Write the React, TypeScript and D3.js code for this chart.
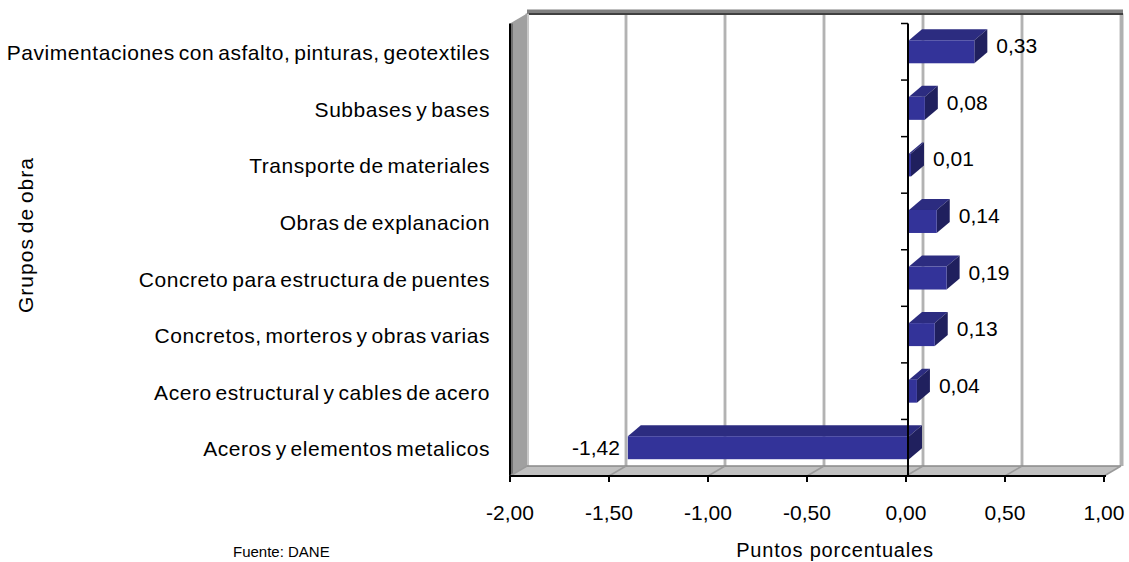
import React from "react";
import * as d3 from "d3";

const categories = [
  "Pavimentaciones con asfalto, pinturas, geotextiles",
  "Subbases y bases",
  "Transporte de materiales",
  "Obras de explanacion",
  "Concreto para estructura de puentes",
  "Concretos, morteros y obras varias",
  "Acero estructural y cables de acero",
  "Aceros y elementos metalicos",
];
const values = [0.33, 0.08, 0.01, 0.14, 0.19, 0.13, 0.04, -1.42];
const xTicks = [-2, -1.5, -1, -0.5, 0, 0.5, 1];
const yTitle = "Grupos de obra";
const xTitle = "Puntos porcentuales";
const source = "Fuente: DANE";

const W = 1129;
const H = 562;
const FONT = "'Liberation Sans', Arial, sans-serif";

const fmt = (v: number) => d3.format(".2f")(v).replace(".", ",").replace("−", "-");

export default function App() {
  const x = d3.scaleLinear().domain([-2, 1]).range([510, 1104]);
  const y = d3.scaleBand<string>().domain(categories).range([23.5, 476]).padding(0);
  const DX = 17, DY = -10; // wall depth
  const BDX = 13, BDY = -11; // bar depth
  const BOFF = 3; // bar front plane offset
  const front = 476, back = front + DY;
  const top = 23.5, backTop = top + DY;
  const xl = x(-2), xr = x(1);
  const barH = 23;

  return (
    <svg width={W} height={H} style={{ position: "absolute", left: 0, top: 0, background: "#fff" }}>
      {/* back wall */}
      <rect x={xl + DX} y={backTop} width={xr - xl} height={back - backTop} fill="#fff" />
      {xTicks.map((t) => (
        <line key={"g" + t} x1={x(t) + DX} x2={x(t) + DX} y1={backTop} y2={back} stroke="#bdbdbd" strokeWidth={3} />
      ))}
      {xTicks.map((t) => (
        <line key={"gc" + t} x1={x(t) + DX} x2={x(t) + DX} y1={backTop} y2={back} stroke="#a8a8a8" strokeWidth={1} />
      ))}
      {/* right edge */}
      <line x1={xr + DX + 1} x2={xr + DX + 1} y1={backTop} y2={back} stroke="#b0b0b0" strokeWidth={3} />
      {/* top band */}
      <rect x={xl + DX} y={backTop - 4} width={xr - xl + 2} height={4} fill="#808080" />
      <line x1={xl + DX} x2={xr + DX + 2} y1={backTop + 0.5} y2={backTop + 0.5} stroke="#404040" strokeWidth={2} />
      {/* left wall */}
      <polygon
        points={`${xl},${top} ${xl + DX},${backTop} ${xl + DX},${back} ${xl},${front}`}
        fill="#a0a0a0"
      />
      <line x1={xl + DX + 1} x2={xl + DX + 1} y1={backTop} y2={back} stroke="#c8c8c8" strokeWidth={2} />
      <line x1={xl} x2={xl} y1={top} y2={front} stroke="#000" strokeWidth={2} />
      <line x1={xl + 2} x2={xl + 2} y1={top} y2={front} stroke="#707070" strokeWidth={2} />
      {/* floor */}
      <polygon
        points={`${xl},${front} ${xr},${front} ${xr + DX},${back} ${xl + DX},${back}`}
        fill="#c0c0c0"
      />
      <line x1={xl + DX} x2={xr + DX} y1={back} y2={back} stroke="#8a8a8a" strokeWidth={1.5} />
      {xTicks.map((t) => (
        <line key={"f" + t} x1={x(t)} x2={x(t) + DX} y1={front} y2={back} stroke="#9a9a9a" strokeWidth={1.5} />
      ))}

      {/* bars */}
      {values.map((v, i) => {
        const c = categories[i];
        const cy = (y(c) as number) + y.bandwidth() / 2;
        const x0 = Math.min(x(0), x(v)) + BOFF;
        const x1 = Math.max(x(0), x(v)) + BOFF;
        const y0 = cy - barH / 2;
        const y1 = cy + barH / 2;
        return (
          <g key={"b" + i}>
            <polygon
              points={`${x0},${y0} ${x0 + BDX},${y0 + BDY} ${x1 + BDX},${y0 + BDY} ${x1},${y0}`}
              fill="#2c2c80"
            />
            <polygon
              points={`${x1},${y0} ${x1 + BDX},${y0 + BDY} ${x1 + BDX},${y1 + BDY} ${x1},${y1}`}
              fill="#20205e"
            />
            <rect x={x0} y={y0} width={x1 - x0} height={barH} fill="#333399" />
          </g>
        );
      })}

      {/* zero axis and category ticks */}
      <line x1={x(0) + 2} x2={x(0) + 2} y1={top} y2={front} stroke="#000" strokeWidth={2} />
      {d3.range(categories.length + 1).map((k) => {
        const yy = top + k * y.bandwidth();
        return <line key={"ct" + k} x1={x(0) - 5} x2={x(0) + 2} y1={yy} y2={yy} stroke="#000" strokeWidth={1.5} />;
      })}

      {/* x axis */}
      <line x1={xl} x2={xr + 2} y1={front} y2={front} stroke="#000" strokeWidth={2} />
      {xTicks.map((t) => (
        <line key={"xt" + t} x1={x(t)} x2={x(t)} y1={front} y2={front + 6} stroke="#000" strokeWidth={2} />
      ))}
      {xTicks.map((t) => (
        <text
          key={"xl" + t}
          x={x(t)}
          y={520}
          textAnchor="middle"
          fontFamily={FONT}
          fontSize={21}
          fill="#000"
        >
          {fmt(t)}
        </text>
      ))}

      {/* category labels */}
      {categories.map((c) => (
        <text
          key={"cl" + c}
          x={490}
          y={(y(c) as number) + y.bandwidth() / 2 + 8.5}
          textAnchor="end"
          fontFamily={FONT}
          fontSize={21}
          letterSpacing={0.55}
          wordSpacing={-2.5}
          fill="#000"
        >
          {c}
        </text>
      ))}

      {/* value labels */}
      {values.map((v, i) => {
        const c = categories[i];
        const cy = (y(c) as number) + y.bandwidth() / 2;
        if (v >= 0) {
          return (
            <text key={"vl" + i} x={x(v) + BOFF + 22} y={cy - 6 + 7.5} fontFamily={FONT} fontSize={21} fill="#000">
              {fmt(v)}
            </text>
          );
        }
        return (
          <text key={"vl" + i} x={x(v) + BOFF - 8} y={cy + 7.5} textAnchor="end" fontFamily={FONT} fontSize={21} fill="#000">
            {fmt(v)}
          </text>
        );
      })}

      {/* titles */}
      <text
        transform="translate(33,235) rotate(-90)"
        textAnchor="middle"
        fontFamily={FONT}
        fontSize={21}
        letterSpacing={1}
        wordSpacing={-2}
        fill="#000"
      >
        {yTitle}
      </text>
      <text x={835} y={557} textAnchor="middle" fontFamily={FONT} fontSize={20} letterSpacing={0.8} fill="#000">
        {xTitle}
      </text>
      <text x={233} y={557} fontFamily={FONT} fontSize={15} fill="#000">
        {source}
      </text>
    </svg>
  );
}
